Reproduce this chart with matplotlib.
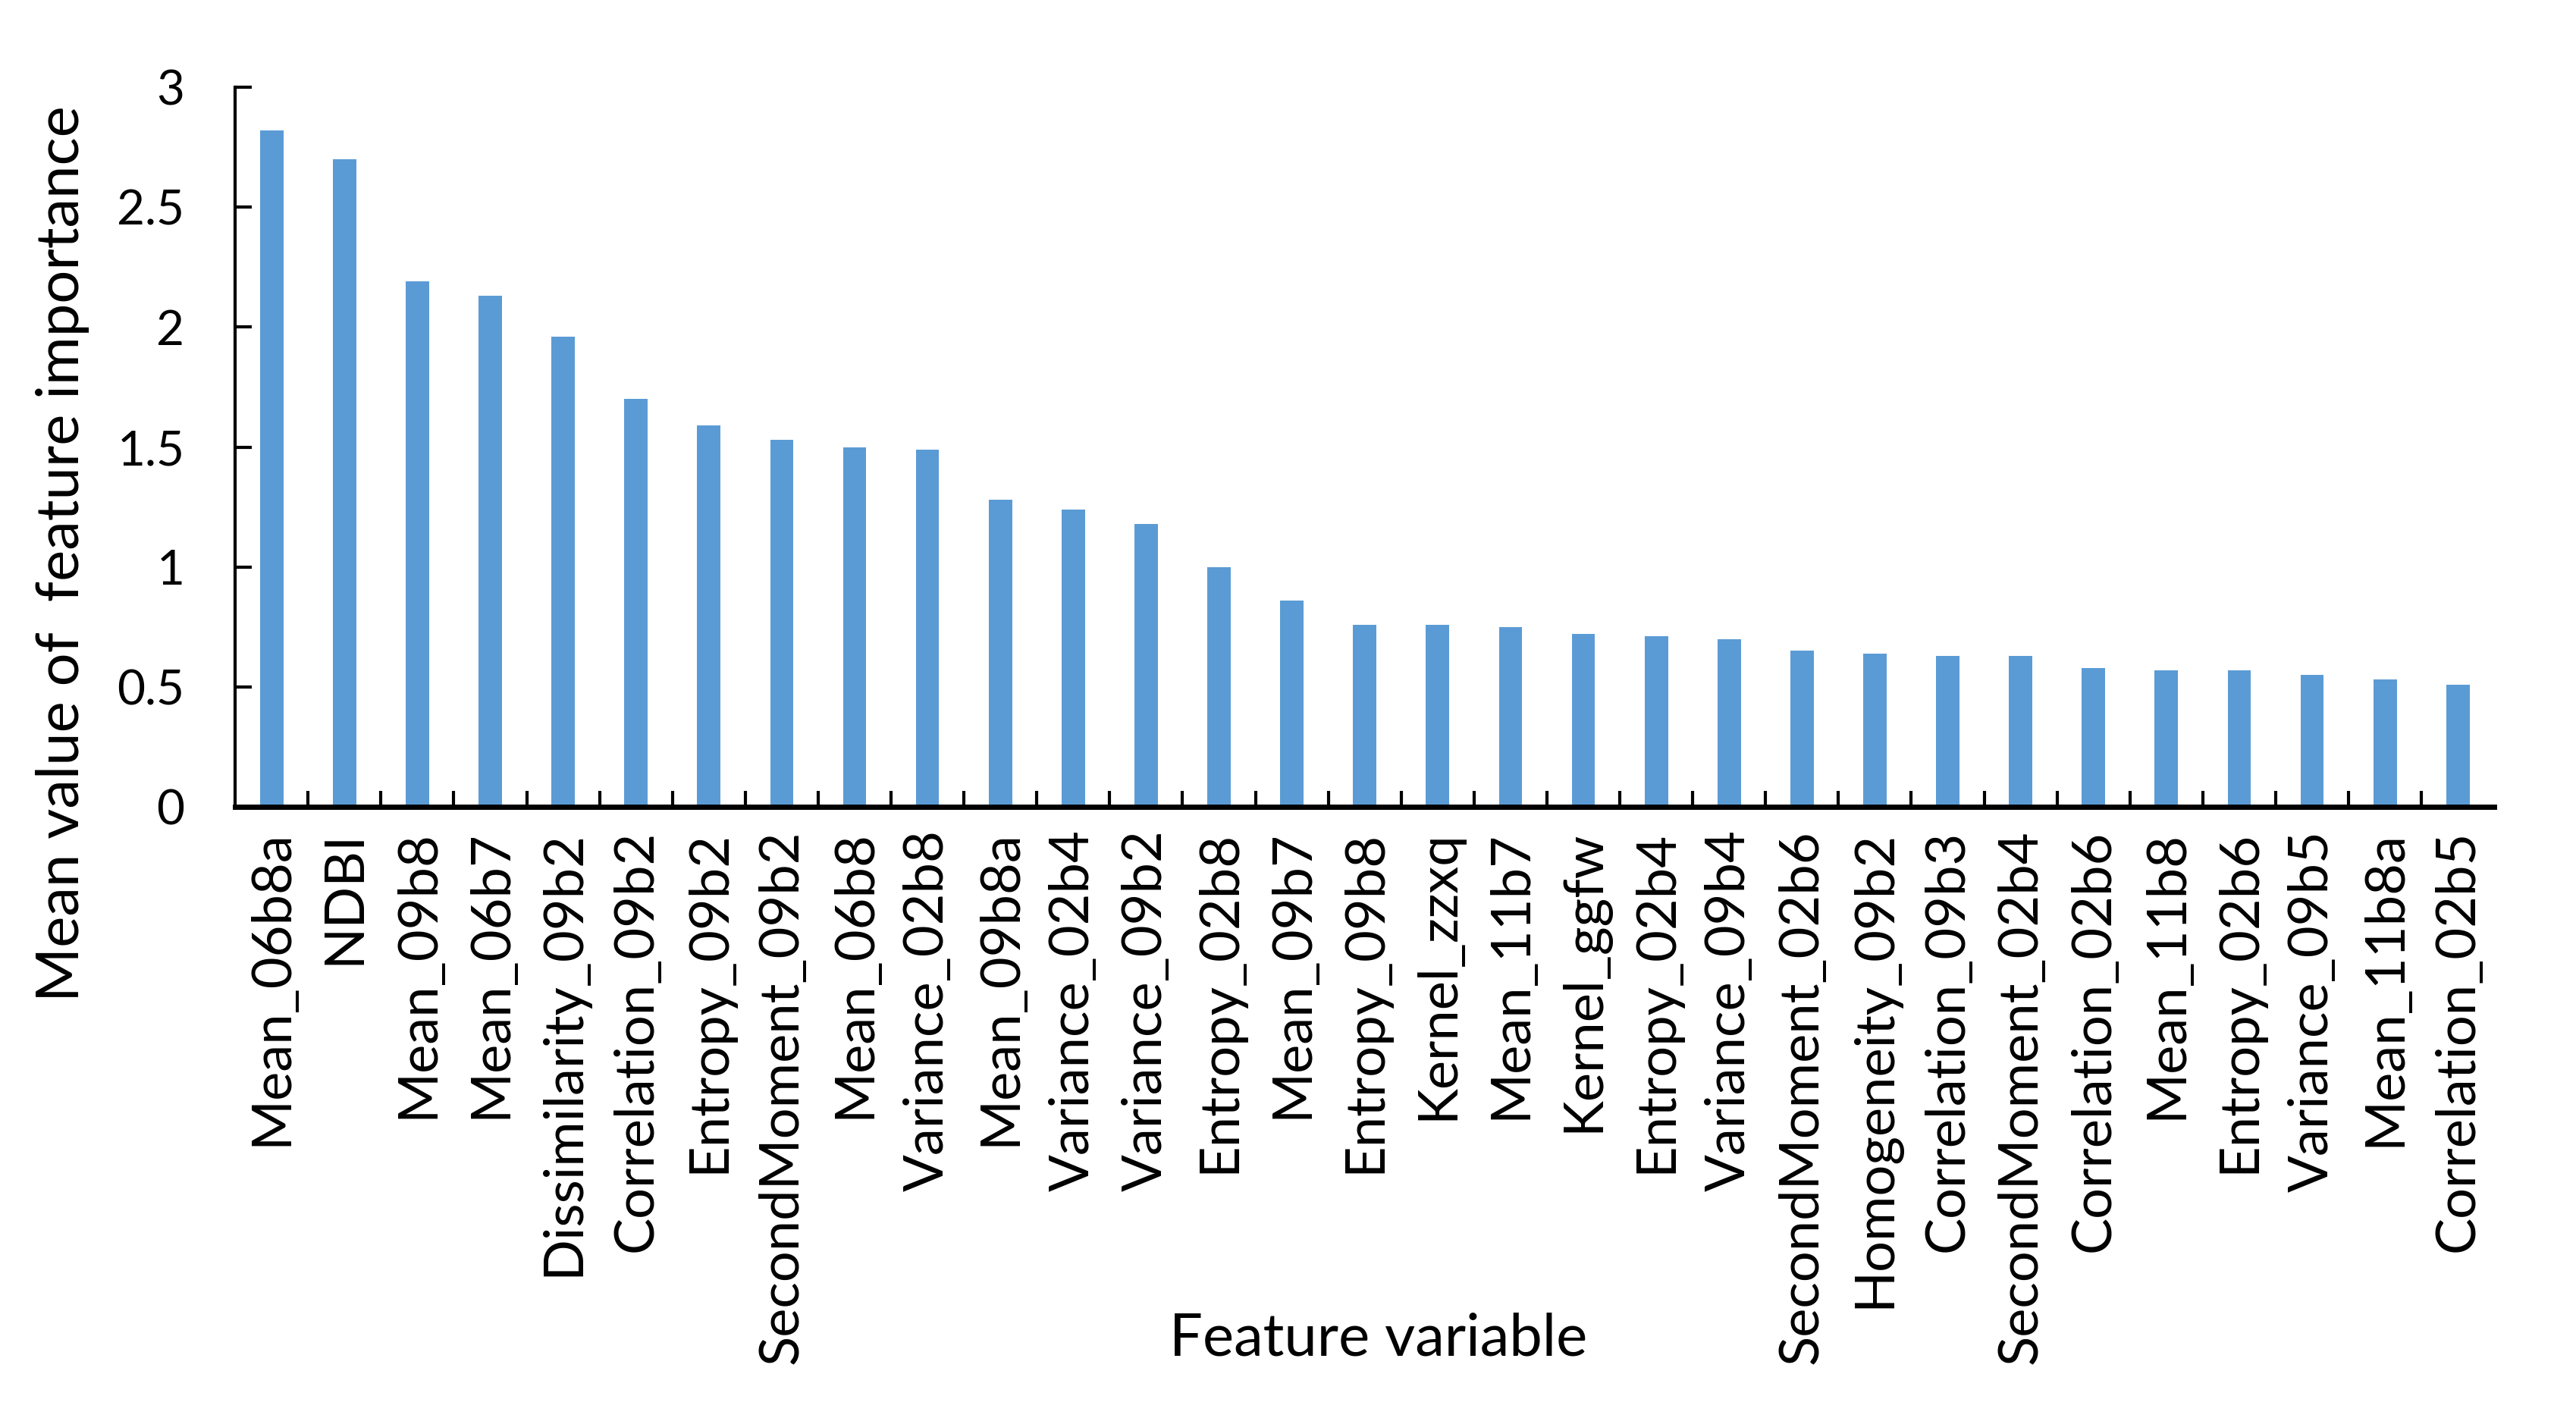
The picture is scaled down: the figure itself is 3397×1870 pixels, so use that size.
import numpy as np
import matplotlib
matplotlib.use("Agg")
import matplotlib.pyplot as plt
from matplotlib.ticker import FixedLocator

# Feature names, ordered by importance
features = ["Mean_06b8a", "NDBI", "Mean_09b8", "Mean_06b7", "Dissimilarity_09b2",
            "Correlation_09b2", "Entropy_09b2", "SecondMoment_09b2", "Mean_06b8",
            "Variance_02b8", "Mean_09b8a", "Variance_02b4", "Variance_09b2",
            "Entropy_02b8", "Mean_09b7", "Entropy_09b8", "Kernel_zzxq", "Mean_11b7",
            "Kernel_ggfw", "Entropy_02b4", "Variance_09b4", "SecondMoment_02b6",
            "Homogeneity_09b2", "Correlation_09b3", "SecondMoment_02b4",
            "Correlation_02b6", "Mean_11b8", "Entropy_02b6", "Variance_09b5",
            "Mean_11b8a", "Correlation_02b5"]

# mean importance values
importance = [2.82, 2.70, 2.19, 2.13, 1.96, 1.70, 1.59, 1.53, 1.50, 1.49, 1.28,
              1.24, 1.18, 1.00, 0.86, 0.76, 0.76, 0.75, 0.72, 0.71, 0.70, 0.65,
              0.64, 0.63, 0.63, 0.58, 0.57, 0.57, 0.55, 0.53, 0.51]

y_ticks = [0, 0.5, 1, 1.5, 2, 2.5, 3]
y_tick_labels = ["0", "0.5", "1", "1.5", "2", "2.5", "3"]

plt.rcParams['font.family'] = ['Lato', 'DejaVu Sans']

fig = plt.figure(figsize=(33.97, 18.70), dpi=100)
ax = fig.add_axes([0.0913, 0.431, 0.877, 0.5075])

x = np.arange(len(features))
ax.bar(x, importance, width=0.32, color='#5B9BD5')

ax.set_xlim(-0.5, len(features) - 0.5)
ax.set_ylim(0, 3)

# spines like an Excel chart
for side in ['top', 'right']:
    ax.spines[side].set_visible(False)
ax.spines['bottom'].set_linewidth(5)
ax.spines['left'].set_linewidth(3)

ax.set_xticks(x)
ax.set_xticklabels(features, rotation=90, fontsize=52)
ax.xaxis.set_minor_locator(FixedLocator(np.arange(0.5, len(features) - 1, 1)))
ax.tick_params(axis='x', which='major', length=0, pad=22)
ax.tick_params(axis='x', which='minor', direction='in', length=15, width=3)

ax.set_yticks(y_ticks)
ax.set_yticklabels(y_tick_labels, fontsize=46)
ax.tick_params(axis='y', direction='in', length=16, width=3, pad=48)

ax.set_ylabel('Mean value of  feature importance', fontsize=56, va='center')
ax.yaxis.set_label_coords(-0.0765, 0.352)
ax.set_xlabel('Feature variable', fontsize=56, va='center')
ax.xaxis.set_label_coords(0.506, -0.74)

fig.savefig('out.png', dpi=100)
